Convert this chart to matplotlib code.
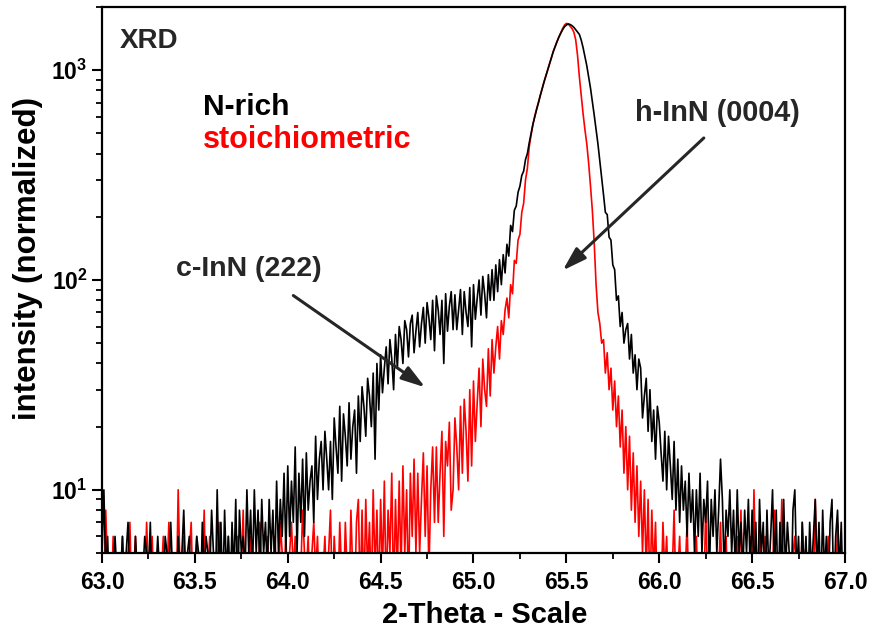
import numpy as np
import matplotlib
matplotlib.use('Agg')
import matplotlib.pyplot as plt
from matplotlib.ticker import LogLocator, MultipleLocator, NullFormatter

plt.rcParams['font.family'] = ['Liberation Sans', 'DejaVu Sans']
plt.rcParams['font.weight'] = 'bold'
plt.rcParams['mathtext.fontset'] = 'custom'
plt.rcParams['mathtext.rm'] = 'Liberation Sans:bold'
plt.rcParams['mathtext.bf'] = 'Liberation Sans:bold'
plt.rcParams['mathtext.default'] = 'bf'

# scan: 63.00 ... 67.00 deg, step 0.01
two_theta = np.round(np.linspace(63.0, 67.0, 401), 2)

# N-rich sample (black), one row per 0.1 deg
n_rich = [
    5, 10, 4, 6, 3, 5, 4, 6, 4, 5,
    4, 6, 3, 5, 7, 4, 5, 3, 6, 4,
    5, 3, 4, 6, 5, 4, 7, 3, 5, 4,
    6, 4, 5, 3, 6, 5, 4, 7, 4, 5,
    3, 6, 4, 5, 8, 4, 5, 6, 3, 5,
    4, 6, 5, 3, 7, 4, 6, 5, 4, 8,
    5, 3, 10, 4, 7, 3, 8, 4, 6, 3,
    7, 4, 9, 3, 8, 5, 6, 4, 10, 5,
    8, 4, 10, 5, 8, 4, 9, 5, 7, 4,
    9, 5, 8, 4, 11, 5, 9, 6, 12, 5,
    13, 6, 11, 7, 16, 5, 12, 7, 14, 6,
    15, 8, 11, 13, 7, 18, 9, 14, 17, 10,
    19, 14, 10, 17, 9, 22, 16, 12, 25, 11,
    23, 18, 13, 26, 14, 20, 24, 12, 28, 17,
    31, 25, 18, 34, 28, 20, 36, 14, 40, 24,
    44, 29, 38, 48, 32, 52, 42, 30, 55, 38,
    60, 52, 40, 64, 58, 43, 62, 68, 45, 57,
    70, 48, 62, 74, 50, 78, 66, 52, 80, 46,
    84, 72, 55, 80, 40, 86, 57, 75, 88, 58,
    85, 58, 72, 90, 55, 88, 70, 60, 92, 48,
    95, 65, 82, 100, 68, 104, 86, 66, 106, 80,
    112, 80, 118, 88, 125, 95, 132, 108, 148, 130,
    182, 170, 215, 225, 262, 280, 315, 330, 375, 400,
    450, 500, 553, 600, 650, 700, 760, 818, 880, 940,
    1000, 1070, 1150, 1230, 1300, 1370, 1440, 1500, 1560, 1610,
    1640, 1660, 1650, 1630, 1600, 1560, 1520, 1480, 1390, 1280,
    1160, 1050, 930, 820, 710, 610, 520, 445, 370, 305,
    255, 210, 205, 160, 155, 118, 112, 80, 84, 60,
    70, 50, 58, 62, 42, 55, 36, 44, 30, 42,
    38, 22, 28, 34, 19, 30, 17, 24, 14, 25,
    21, 15, 11, 19, 10, 18, 13, 9, 17, 8,
    14, 7, 13, 8, 11, 6, 12, 7, 10, 5,
    10, 6, 12, 5, 9, 7, 11, 4, 9, 6,
    10, 5, 8, 14, 9, 4, 8, 6, 10, 5,
    8, 4, 10, 5, 7, 4, 8, 5, 9, 4,
    8, 4, 7, 3, 9, 5, 7, 3, 8, 4,
    6, 10, 4, 8, 3, 7, 4, 9, 4, 7,
    5, 3, 8, 10, 4, 6, 3, 7, 4, 6,
    3, 7, 4, 6, 9, 4, 7, 3, 8, 4,
    6, 3, 7, 9, 3, 6, 8, 4, 7, 3,
    5,
]

# stoichiometric sample (red)
stoich = [
    4, 3, 8, 4, 5, 3, 6, 4, 3, 5,
    3, 6, 4, 3, 5, 7, 3, 4, 6, 3,
    4, 3, 5, 3, 7, 4, 3, 6, 3, 4,
    5, 3, 4, 6, 3, 4, 7, 3, 5, 4,
    3, 10, 4, 3, 6, 4, 3, 5, 7, 3,
    4, 6, 3, 5, 4, 8, 3, 4, 6, 3,
    5, 3, 4, 7, 3, 5, 4, 3, 6, 4,
    3, 5, 4, 6, 3, 4, 8, 3, 5, 4,
    6, 3, 4, 5, 3, 7, 4, 5, 3, 6,
    4, 5, 3, 6, 4, 3, 7, 5, 4, 6,
    3, 5, 7, 4, 6, 3, 5, 4, 8, 5,
    4, 6, 3, 5, 7, 4, 6, 3, 5, 4,
    6, 3, 5, 8, 3, 6, 4, 3, 7, 4,
    3, 7, 4, 3, 8, 4, 3, 7, 9, 3,
    8, 3, 9, 4, 7, 3, 10, 4, 8, 3,
    9, 4, 11, 3, 8, 5, 12, 3, 9, 4,
    11, 4, 13, 5, 10, 3, 12, 6, 14, 5,
    12, 5, 9, 15, 6, 13, 4, 10, 16, 7,
    16, 7, 12, 19, 6, 17, 13, 21, 8, 10,
    22, 16, 10, 25, 12, 27, 19, 11, 30, 13,
    33, 17, 26, 38, 20, 42, 30, 25, 47, 28,
    52, 36, 48, 60, 42, 64, 55, 72, 82, 66,
    95, 86, 124, 120, 155, 165, 210, 232, 300, 340,
    430, 490, 550, 605, 655, 705, 760, 820, 880, 940,
    1000, 1070, 1150, 1230, 1300, 1370, 1440, 1510, 1580, 1640,
    1670, 1660, 1620, 1580, 1520, 1400, 1180, 930, 760, 620,
    520, 445, 360, 280, 214, 150, 95, 70, 62, 50,
    52, 36, 45, 30, 38, 24, 33, 20, 28, 16,
    24, 12, 20, 10, 18, 8, 15, 7, 13, 6,
    11, 5, 10, 4, 9, 3, 8, 4, 7, 3,
    5, 3, 7, 4, 6, 3, 5, 4, 8, 3,
    4, 6, 3, 5, 4, 7, 3, 5, 4, 3,
    6, 3, 4, 5, 3, 8, 4, 3, 5, 4,
    3, 5, 4, 7, 3, 4, 6, 3, 5, 4,
    4, 3, 6, 4, 8, 3, 5, 4, 3, 6,
    3, 10, 4, 3, 7, 4, 3, 6, 4, 5,
    3, 4, 8, 3, 5, 4, 9, 3, 4, 5,
    4, 3, 5, 6, 3, 4, 3, 7, 4, 3,
    5, 3, 4, 3, 9, 4, 3, 5, 4, 3,
    4, 6, 3, 5, 4, 3, 7, 4, 3, 5,
    4,
]

x_ticks = [63.0, 63.5, 64.0, 64.5, 65.0, 65.5, 66.0, 66.5, 67.0]
x_tick_labels = ['%.1f' % t for t in x_ticks]

fig = plt.figure(figsize=(8.72, 6.33), dpi=100)
ax = fig.add_axes([0.117, 0.1264, 0.852, 0.8626])

ax.plot(two_theta, stoich, color='#ff0000', linewidth=1.2)
ax.plot(two_theta, n_rich, color='black', linewidth=1.2)

ax.set_yscale('log')
ax.set_xlim(63.0, 67.0)
ax.set_ylim(5, 2000)
ax.set_xticks(x_ticks)
ax.set_xticklabels(x_tick_labels)
ax.xaxis.set_minor_locator(MultipleLocator(0.25))
ax.yaxis.set_major_locator(LogLocator(base=10))
ax.yaxis.set_minor_locator(LogLocator(base=10, subs=np.arange(2, 10)))
ax.yaxis.set_minor_formatter(NullFormatter())

for s in ax.spines.values():
    s.set_linewidth(1.6)
ax.tick_params(which='major', direction='out', length=7, width=1.5, labelsize=16.5)
ax.tick_params(which='minor', direction='out', length=4.5, width=1.3)
ax.tick_params(axis='x', pad=6)

ax.set_xlabel('2-Theta - Scale', fontsize=21, fontweight='bold', labelpad=5)
ax.set_ylabel('intensity (normalized)', fontsize=22.5, fontweight='bold', labelpad=6)
ax.xaxis.label.set_x(0.515)
ax.yaxis.label.set_y(0.54)

ax.text(0.024, 0.925, 'XRD', transform=ax.transAxes, fontsize=20,
        fontweight='bold', color='#262626', ha='left', va='baseline')
ax.text(0.136, 0.802, 'N-rich', transform=ax.transAxes, fontsize=21.5,
        fontweight='bold', color='black', ha='left', va='baseline')
ax.text(0.136, 0.742, 'stoichiometric', transform=ax.transAxes, fontsize=22,
        fontweight='bold', color='#ff0000', ha='left', va='baseline')

arrow = dict(arrowstyle='-|>,head_length=0.8,head_width=0.25', color='#262626',
             lw=2.2, mutation_scale=18, shrinkA=0, shrinkB=0)
ax.text(0.0996, 0.507, 'c-InN (222)', transform=ax.transAxes, fontsize=20.5,
        fontweight='bold', color='#262626', ha='left', va='baseline')
ax.annotate('', xy=(64.74, 30.8), xytext=(64.03, 84.3), arrowprops=arrow)
ax.text(0.717, 0.791, 'h-InN (0004)', transform=ax.transAxes, fontsize=20.8,
        fontweight='bold', color='#262626', ha='left', va='baseline')
ax.annotate('', xy=(65.48, 111), xytext=(66.24, 475), arrowprops=arrow)

fig.savefig('out.png', dpi=100)
